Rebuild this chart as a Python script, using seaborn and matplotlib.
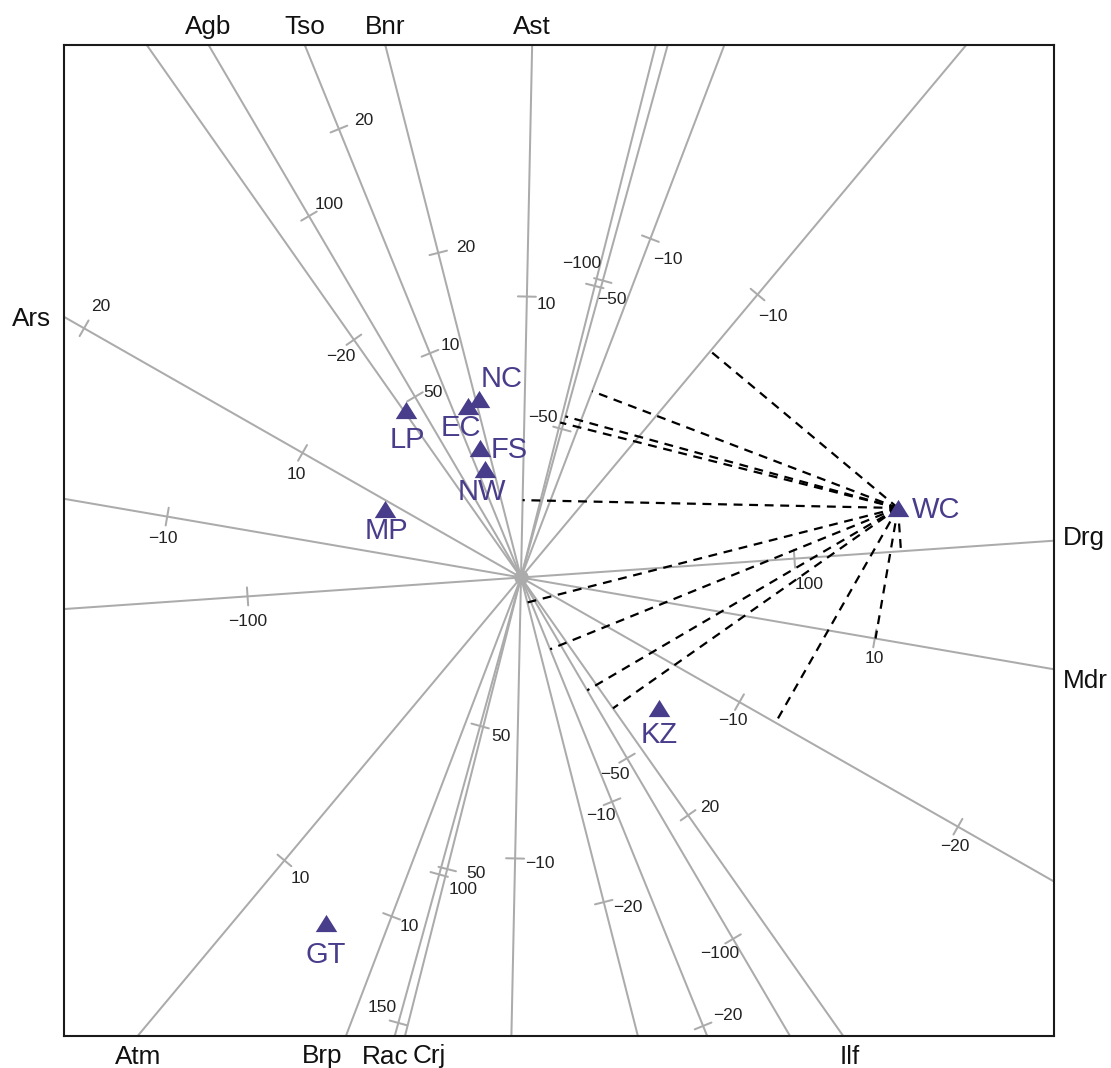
import numpy as np
import pandas as pd
import matplotlib
matplotlib.use("Agg")
import matplotlib.pyplot as plt
import seaborn as sns

# ---------------- data ----------------
axis_names = ["Agb", "Tso", "Bnr", "Ast", "Ars", "Drg", "Mdr", "Atm", "Brp", "Rac", "Crj", "Ilf"]
# direction of the positive end of each variable axis (degrees)
axis_angle = [120.4, 112.1, 104.3, 88.8, 150.3, 3.95, -9.77, 230.1, 249.1, 254.6, 255.8, 305.1]
# biplot length of one unit of each variable
axis_unit = [0.0419, 0.242, 0.1675, 0.281, 0.2515, 0.02741, 0.359, 0.3688, 0.3627, 0.0308, 0.06015, 0.1453]

tick_values = {
    "Agb": [100, 50, -50, -100],
    "Tso": [20, 10, -10, -20],
    "Bnr": [20, -20],
    "Ast": [10, -10],
    "Ars": [20, 10, -10, -20],
    "Drg": [100, -100],
    "Mdr": [10, -10],
    "Atm": [10, -10],
    "Brp": [10, -10],
    "Rac": [150, 100, 50, -50, -100],
    "Crj": [50, -50],
    "Ilf": [20, -20],
}

sample_names = ["LP", "EC", "NC", "FS", "NW", "MP", "WC", "KZ", "GT"]
sample_x = [-1.152, -0.531, -0.424, -0.406, -0.360, -1.360, 3.770, 1.377, -1.953]
sample_y = [1.675, 1.712, 1.787, 1.298, 1.085, 0.685, 0.695, -1.310, -3.455]
projected_sample = "WC"

# ---------------- layout (pixel offsets, screen y downwards) ----------------
tick_label_offset = {
    ("Agb", 100): (20, -12), ("Agb", 50): (18, -4), ("Agb", -50): (-12, 16), ("Agb", -100): (-13, 15),
    ("Tso", 20): (25, -9), ("Tso", 10): (20, -8), ("Tso", -10): (-11, 14), ("Tso", -20): (25, -10),
    ("Bnr", 20): (27, -5), ("Bnr", -20): (24, 5),
    ("Ast", 10): (19, 8), ("Ast", -10): (25, 5),
    ("Ars", 20): (17, -22), ("Ars", 10): (-6, 22), ("Ars", -10): (-7, 18), ("Ars", -20): (-3, 20),
    ("Drg", 100): (15, 26), ("Drg", -100): (0, 25),
    ("Mdr", 10): (0, 20), ("Mdr", -10): (-4, 22),
    ("Atm", 10): (16, 18), ("Atm", -10): (15, 22),
    ("Brp", 10): (18, 10), ("Brp", -10): (17, 21),
    ("Rac", 150): (-16, -15), ("Rac", 100): (24, 15), ("Rac", 50): (21, 11),
    ("Rac", -50): (-19, -12), ("Rac", -100): (-21, -17),
    ("Crj", 50): (29, 4), ("Crj", -50): (17, 14),
    ("Ilf", 20): (22, -8), ("Ilf", -20): (-13, 17),
}
axis_label_nudge = {"Brp": (-24, 0), "Rac": (-10, 0), "Crj": (24, 0), "Ilf": (7, 0),
                    "Drg": (0, -5), "Mdr": (0, 10)}
sample_label_offset = {
    "LP": (2, 30), "EC": (-7, 22), "NC": (23, -20), "FS": (29, 2), "NW": (-3, 23),
    "MP": (1, 22), "WC": (38, 2), "KZ": (0, 27), "GT": (0, 32),
}

XLIM = (-4.575, 5.33)
YLIM = (-4.58, 5.327)

GRAY = "#ABABAB"
PURPLE = "#483D8B"
TRIANGLE = [(-1.0, -0.8), (1.0, -0.8), (0.0, 0.8), (-1.0, -0.8)]

# ---------------- figure ----------------
sns.set_theme(style="white")
plt.rcParams["font.family"] = ["Liberation Sans", "DejaVu Sans"]

fig = plt.figure(figsize=(11.11, 10.68), dpi=100)
ax = fig.add_axes([63.5 / 1111, 1 - 1035.5 / 1068, 990.5 / 1111, 990.7 / 1068])
ax.set_xlim(*XLIM)
ax.set_ylim(*YLIM)
ax.set_autoscale_on(False)
ax.set_xticks([])
ax.set_yticks([])
for sp in ax.spines.values():
    sp.set_visible(True)
    sp.set_color("#1a1a1a")
    sp.set_linewidth(1.5)


def border_hit(u):
    ts = []
    if u[0] > 1e-12:
        ts.append(XLIM[1] / u[0])
    elif u[0] < -1e-12:
        ts.append(XLIM[0] / u[0])
    if u[1] > 1e-12:
        ts.append(YLIM[1] / u[1])
    elif u[1] < -1e-12:
        ts.append(YLIM[0] / u[1])
    t = min(ts)
    p = t * u
    if abs(p[1] - YLIM[1]) < 1e-6:
        side = "top"
    elif abs(p[1] - YLIM[0]) < 1e-6:
        side = "bottom"
    elif abs(p[0] - XLIM[0]) < 1e-6:
        side = "left"
    else:
        side = "right"
    return p, side


wc = np.array([sample_x[sample_names.index(projected_sample)],
               sample_y[sample_names.index(projected_sample)]])

for name, ang, unit in zip(axis_names, axis_angle, axis_unit):
    u = np.array([np.cos(np.radians(ang)), np.sin(np.radians(ang))])
    n = np.array([-u[1], u[0]])
    # full axis line
    ax.plot([-12 * u[0], 12 * u[0]], [-12 * u[1], 12 * u[1]], color=GRAY, lw=1.45, zorder=1,
            solid_capstyle="butt")
    # ticks
    for v in tick_values[name]:
        p = v * unit * u
        a = p - 0.09 * n
        b = p + 0.09 * n
        ax.plot([a[0], b[0]], [a[1], b[1]], color=GRAY, lw=1.45, zorder=1)
        dx, dy = tick_label_offset.get((name, v), (14, 10))
        ax.annotate(str(v).replace("-", "\u2212"), xy=(p[0], p[1]), xytext=(dx, -dy),
                    textcoords="offset pixels", ha="center", va="center",
                    fontsize=12.5, color="#222222", zorder=4)
    # axis label at the positive end
    end, side = border_hit(u)
    ndx, ndy = axis_label_nudge.get(name, (0, 0))
    if side == "top":
        off, ha, va = (0, 10.5), "center", "baseline"
    elif side == "bottom":
        off, ha, va = (0, -28), "center", "baseline"
    elif side == "left":
        off, ha, va = (-12.5, -9), "right", "baseline"
    else:
        off, ha, va = (9, -9), "left", "baseline"
    ax.annotate(name, xy=(end[0], end[1]), xytext=(off[0] + ndx, off[1] - ndy),
                textcoords="offset pixels", ha=ha, va=va, fontsize=18.8,
                color="#111111", annotation_clip=False, zorder=4)
    # dashed projection of the selected sample onto the axis
    foot = np.dot(wc, u) * u
    ax.plot([wc[0], foot[0]], [wc[1], foot[1]], color="black", lw=1.6,
            linestyle=(0, (4, 3)), zorder=2)

# centre point
ax.scatter([0], [0], s=110, color=GRAY, linewidths=0, zorder=1.5)

# samples
df = pd.DataFrame({"name": sample_names, "x": sample_x, "y": sample_y})
sns.scatterplot(data=df, x="x", y="y", marker=TRIANGLE, s=240, color=PURPLE,
                linewidth=0, ax=ax, zorder=3, legend=False)
for nm, x, y in zip(sample_names, sample_x, sample_y):
    dx, dy = sample_label_offset[nm]
    ax.annotate(nm, xy=(x, y), xytext=(dx, -dy), textcoords="offset pixels",
                ha="center", va="center", fontsize=21, color=PURPLE, zorder=4)

ax.set_xlabel("")
ax.set_ylabel("")
fig.savefig("out.png", dpi=100)
